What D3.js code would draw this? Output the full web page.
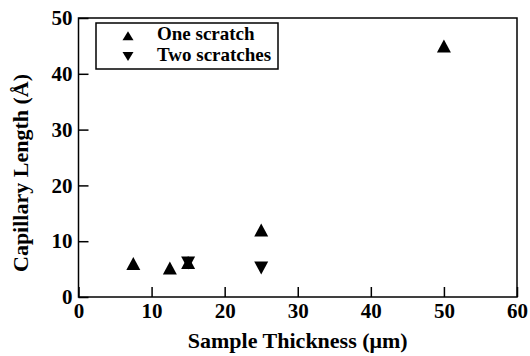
<!DOCTYPE html>
<html><head><meta charset="utf-8">
<script src="https://cdn.jsdelivr.net/npm/d3@7"></script>
<style>body{margin:0;background:#fff}</style>
</head><body><svg id="c" width="530" height="356"></svg>
<script>
const oneScratchX = [7.5, 12.5, 15, 25, 50];
const oneScratchY = [6.0, 5.2, 6.2, 12.0, 45.0];
const twoScratchX = [15, 25];
const twoScratchY = [6.1, 5.2];
const xTicks = [0, 10, 20, 30, 40, 50, 60];
const yTicks = [0, 10, 20, 30, 40, 50];
const seriesNames = ["One scratch", "Two scratches"];

const svg = d3.select("#c");
const L = 78.5, R = 517, T = 18, B = 297;
const x = d3.scaleLinear().domain([0, 60]).range([L, R]);
const y = d3.scaleLinear().domain([0, 50]).range([B, T]);
const font = "'Liberation Serif', 'Times New Roman', serif";

// custom triangle centered on bbox
function tri(w, h, down) {
  return { draw(ctx) {
    const s = down ? -1 : 1;
    ctx.moveTo(0, -s * h / 2);
    ctx.lineTo(w / 2, s * h / 2);
    ctx.lineTo(-w / 2, s * h / 2);
    ctx.closePath();
  }};
}

// frame
svg.append("rect").attr("x", L).attr("y", T).attr("width", R - L).attr("height", B - T)
  .attr("fill", "none").attr("stroke", "#000").attr("stroke-width", 1.5);

const xAxis = svg.append("g").attr("transform", `translate(0,${B})`)
  .call(d3.axisBottom(x).tickValues(xTicks).tickSize(-10).tickPadding(6).tickFormat(d3.format("d")));
const yAxis = svg.append("g").attr("transform", `translate(${L},0)`)
  .call(d3.axisLeft(y).tickValues(yTicks).tickSize(-10).tickPadding(6).tickFormat(d3.format("d")));
[xAxis, yAxis].forEach(g => {
  g.select(".domain").remove();
  g.selectAll("line").attr("stroke", "#000").attr("stroke-width", 1.5);
  g.selectAll("text").attr("font-family", font).attr("font-weight", "bold")
    .attr("font-size", 21).attr("fill", "#000");
});
xAxis.selectAll("text").attr("dy", "0.71em");

svg.append("text").attr("x", (L + R) / 2).attr("y", 348).attr("text-anchor", "middle")
  .attr("font-family", font).attr("font-weight", "bold").attr("font-size", 22)
  .text("Sample Thickness (μm)");
svg.append("text").attr("transform", "translate(28,173) rotate(-90)").attr("text-anchor", "middle")
  .attr("font-family", font).attr("font-weight", "bold").attr("font-size", 22)
  .text("Capillary Length (Å)");

// data
svg.append("g").selectAll("path").data(oneScratchX.map((d, i) => [d, oneScratchY[i]])).join("path")
  .attr("transform", d => `translate(${x(d[0])},${y(d[1])})`)
  .attr("d", d3.symbol().type(tri(14, 13, false))()).attr("fill", "#000");
svg.append("g").selectAll("path").data(twoScratchX.map((d, i) => [d, twoScratchY[i]])).join("path")
  .attr("transform", d => `translate(${x(d[0])},${y(d[1])})`)
  .attr("d", d3.symbol().type(tri(14, 13, true))()).attr("fill", "#000");

// legend
svg.append("rect").attr("x", 96).attr("y", 23).attr("width", 182).attr("height", 46)
  .attr("fill", "#fff").attr("stroke", "#000").attr("stroke-width", 1.5);
const lg = svg.append("g");
seriesNames.forEach((n, i) => {
  lg.append("path").attr("transform", `translate(128,${35.8 + i * 20.7})`)
    .attr("d", d3.symbol().type(tri(11, 9, i === 1))()).attr("fill", "#000");
  lg.append("text").attr("x", 157).attr("y", 40 + i * 20.7)
    .attr("font-family", font).attr("font-weight", "bold").attr("font-size", 19).text(n);
});
</script></body></html>
